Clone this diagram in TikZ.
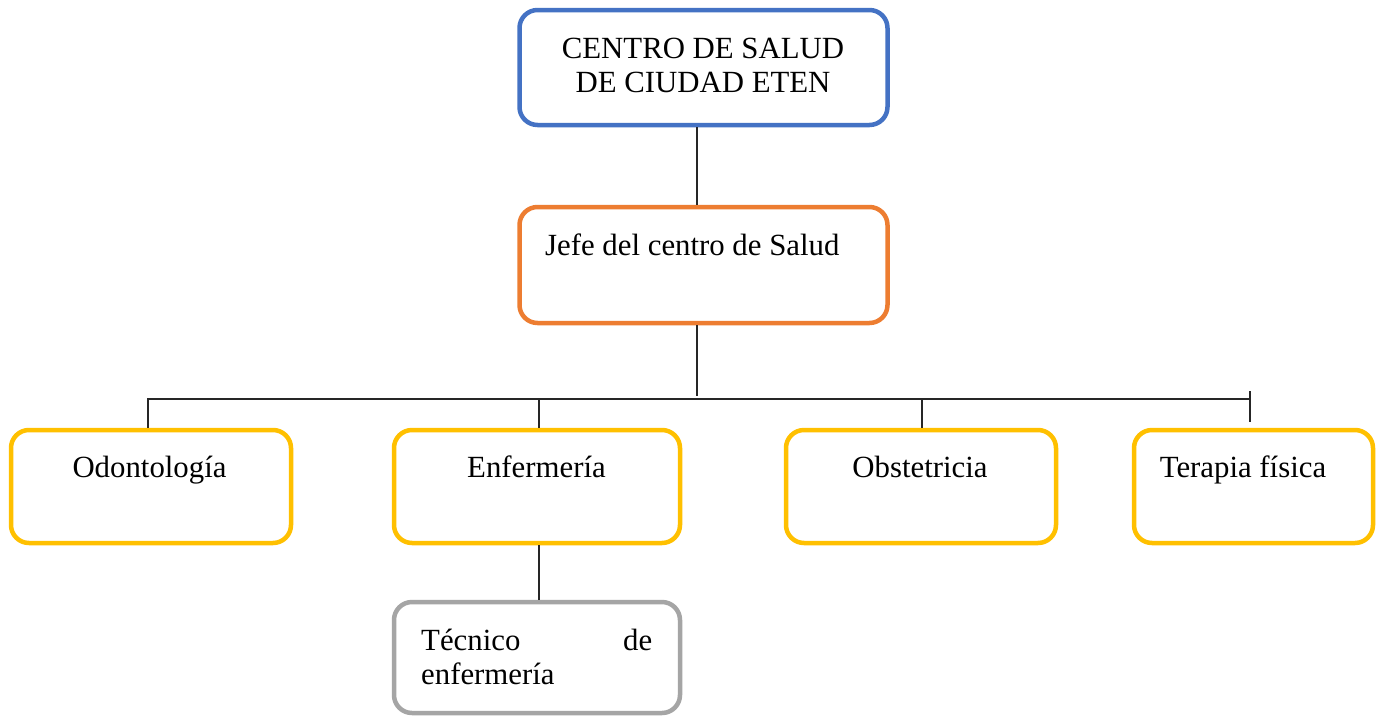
\documentclass[tikz,border=0pt]{standalone}
\usepackage{fontspec}
\setmainfont{Liberation Serif}
\definecolor{cblue}{HTML}{4472C4}
\definecolor{corange}{HTML}{ED7D31}
\definecolor{cyellow}{HTML}{FFC000}
\definecolor{cgray}{HTML}{A5A5A5}
\tikzset{
  box/.style={draw=#1, line width=4.5pt, rounded corners=18pt, fill=white, inner sep=0pt},
  lbl/.style={inner sep=0pt, anchor=base, font=\fontsize{30.8}{34.5}\selectfont},
  conn/.style={draw=black!85, line width=1.4pt}
}
\begin{document}
\begin{tikzpicture}[x=1pt,y=-1pt]
\useasboundingbox[fill=white] (0,0) rectangle (1377,716);
% boxes
\node[box=cblue, minimum width=368pt, minimum height=115pt] (top) at (703.5,67.5) {};
\node[box=corange, minimum width=368pt, minimum height=116pt] (jefe) at (703.5,265) {};
\node[box=cyellow, minimum width=280pt, minimum height=113pt] (odon) at (151,486.5) {};
\node[box=cyellow, minimum width=286pt, minimum height=113pt] (enf) at (537,486.5) {};
\node[box=cyellow, minimum width=270pt, minimum height=113pt] (obst) at (921,486.5) {};
\node[box=cyellow, minimum width=239pt, minimum height=113pt] (ter) at (1253.5,486.5) {};
\node[box=cgray, minimum width=286pt, minimum height=111pt] (tec) at (537,657.5) {};
% texts
\node[lbl] (ttop) at (703,58) {\parbox[t]{340pt}{\centering CENTRO DE SALUD\\DE CIUDAD ETEN}};
\node[lbl, anchor=base west] (tjefe) at (545,255) {Jefe del centro de Salud};
\node[lbl] (todon) at (149.5,477) {Odontología};
\node[lbl] (tenf) at (536.5,477) {Enfermería};
\node[lbl] (tobst) at (920,477) {Obstetricia};
\node[lbl] (tter) at (1243,477) {Terapia física};
\node[lbl, anchor=base west] (ttec) at (421,650) {\parbox[t]{231pt}{\spaceskip=7.5pt plus 200pt\parfillskip=0pt plus 1fil Técnico de enfermería}};
% connector coordinates
\coordinate (c1) at (697,0);
\coordinate (jend) at (697,396);
\coordinate (busL) at (148,399);
\coordinate (busE) at (539,399);
\coordinate (busO) at (922,399);
\coordinate (busR) at (1250,399);
\coordinate (tickT) at (1250,391);
\coordinate (tickB) at (1250,422);
% connectors
\draw[conn] (top.south -| c1) -- (jefe.north -| c1);
\draw[conn] (jefe.south -| c1) -- (jend);
\draw[conn] (odon.north -| busL) -- (busL) -- (busR);
\draw[conn] (busE) -- (enf.north -| busE);
\draw[conn] (busO) -- (obst.north -| busO);
\draw[conn] (tickT) -- (tickB);
\draw[conn] (enf.south -| busE) -- (tec.north -| busE);
\end{tikzpicture}
\end{document}
